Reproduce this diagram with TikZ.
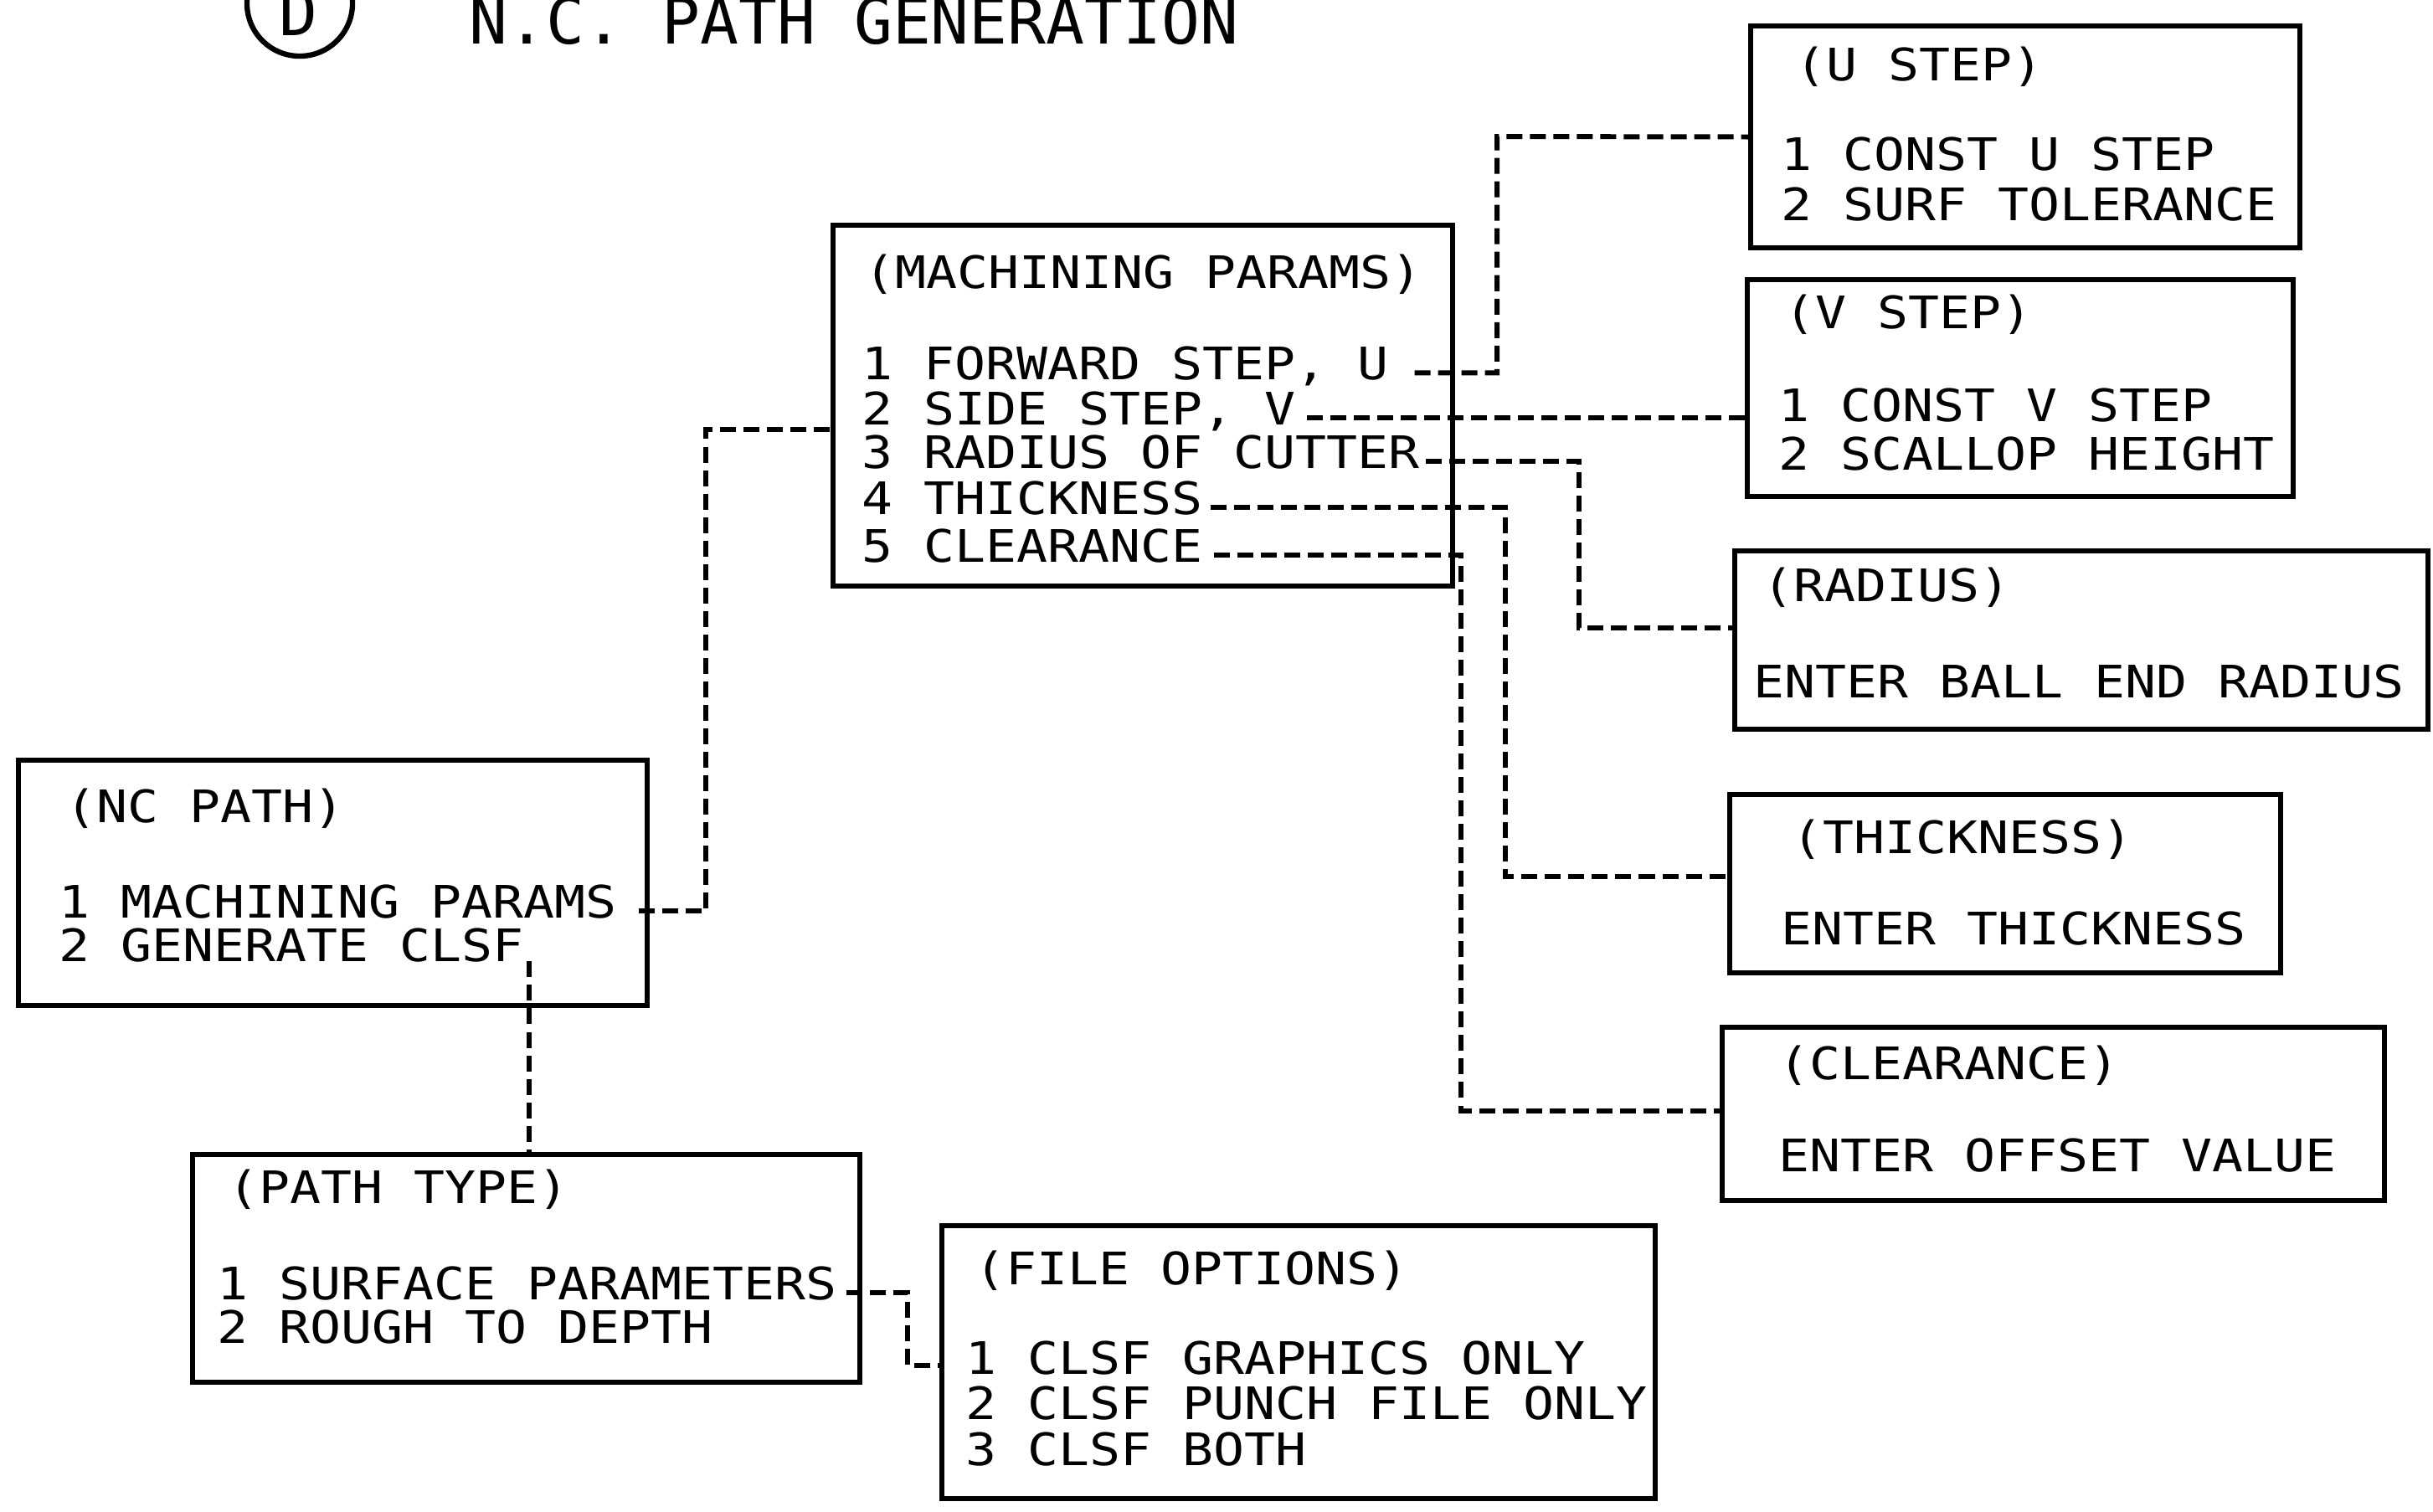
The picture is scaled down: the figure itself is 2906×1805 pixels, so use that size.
\documentclass[tikz,border=0pt]{standalone}
\usepackage{fontspec}
\setmonofont{DejaVu Sans Mono}
\newfontfamily\plotfont[FakeStretch=1.15]{DejaVu Sans Mono}
\usetikzlibrary{fit,calc}
\begin{document}
\begin{tikzpicture}[x=0.01cm,y=-0.01cm,
  box/.style={draw, line width=1.8pt, inner sep=0pt},
  txt/.style={inner sep=0pt, anchor=base west, text height=11.1pt, text depth=0pt, font=\plotfont\fontsize{15.2}{18}\selectfont},
  ttl/.style={inner sep=0pt, font=\ttfamily\fontsize{21.7}{26}\selectfont},
  conn/.style={line width=1.7pt, dash pattern=on 0.19cm off 0.09cm}]
\useasboundingbox (0,0) rectangle (2906,1805);
\clip (0,0) rectangle (2906,1805);

% title
\node[draw, circle, line width=1.8pt, minimum size=1.26cm, inner sep=0pt] (circ) at (358,4) {};
\node[ttl, anchor=base] (dlet) at (356,42) {D};
\node[ttl, anchor=base west] (title) at (560,52) {N.C. PATH GENERATION};

% machining params
\node[box, fit={(995,269) (1735,700)}] (mp) {};
\node[txt] (mp0) at (1032,344) {(MACHINING PARAMS)};
\node[txt] (mp1) at (1029,453) {1 FORWARD STEP, U};
\node[txt] (mp2) at (1029,507) {2 SIDE STEP, V};
\node[txt] (mp3) at (1029,559) {3 RADIUS OF CUTTER};
\node[txt] (mp4) at (1029,614) {4 THICKNESS};
\node[txt] (mp5) at (1029,671) {5 CLEARANCE};

% U step
\node[box, fit={(2091,31) (2747,296)}] (ustep) {};
\node[txt] (us0) at (2144,96) {(U STEP)};
\node[txt] (us1) at (2127,203) {1 CONST U STEP};
\node[txt] (us2) at (2127,263) {2 SURF TOLERANCE};

% V step
\node[box, fit={(2087,334) (2739,593)}] (vstep) {};
\node[txt] (vs0) at (2131,392) {(V STEP)};
\node[txt] (vs1) at (2124,503) {1 CONST V STEP};
\node[txt] (vs2) at (2124,561) {2 SCALLOP HEIGHT};

% radius
\node[box, fit={(2072,658) (2900,871)}] (radius) {};
\node[txt] (ra0) at (2105,718) {(RADIUS)};
\node[txt] (ra1) at (2094,833) {ENTER BALL END RADIUS};

% thickness
\node[box, fit={(2066,949) (2724,1162)}] (thick) {};
\node[txt] (th0) at (2140,1019) {(THICKNESS)};
\node[txt] (th1) at (2127,1128) {ENTER THICKNESS};

% clearance
\node[box, fit={(2057,1227) (2848,1434)}] (clear) {};
\node[txt] (cl0) at (2124,1289) {(CLEARANCE)};
\node[txt] (cl1) at (2124,1399) {ENTER OFFSET VALUE};

% NC path
\node[box, fit={(22,908) (773,1201)}] (nc) {};
\node[txt] (nc0) at (78,982) {(NC PATH)};
\node[txt] (nc1) at (70,1096) {1 MACHINING PARAMS};
\node[txt] (nc2) at (70,1148) {2 GENERATE CLSF};

% path type
\node[box, fit={(230,1379) (1027,1651)}] (ptype) {};
\node[txt] (pt0) at (272,1437) {(PATH TYPE)};
\node[txt] (pt1) at (259,1552) {1 SURFACE PARAMETERS};
\node[txt] (pt2) at (259,1604) {2 ROUGH TO DEPTH};

% file options
\node[box, fit={(1125,1464) (1977,1790)}] (fopt) {};
\node[txt] (fo0) at (1164,1534) {(FILE OPTIONS)};
\node[txt] (fo1) at (1153,1641) {1 CLSF GRAPHICS ONLY};
\node[txt] (fo2) at (1153,1695) {2 CLSF PUNCH FILE ONLY};
\node[txt] (fo3) at (1153,1750) {3 CLSF BOTH};

% connector bends
\coordinate (bu) at (1788,163);
\coordinate (br) at (1886,750);
\coordinate (b4) at (1798,1047);
\coordinate (b5) at (1745,1327);
\coordinate (bn) at (843,513);
\coordinate (bp) at (1084,1631);
\coordinate (g) at ([xshift=0.05cm,yshift=-0.08cm]nc2.mid east);

% connectors
\draw[conn] ([xshift=0.3cm]mp1.mid east) -| (bu) -- (ustep.west);
\draw[conn] ([xshift=0.12cm]mp2.mid east) -- (mp2.mid east -| vstep.west);
\draw[conn] ([xshift=0.06cm]mp3.mid east) -| (br) -- (br -| radius.west);
\draw[conn] ([xshift=0.08cm]mp4.mid east) -| (b4) -- (b4 -| thick.west);
\draw[conn] ([xshift=0.12cm]mp5.mid east) -| (b5) -- (b5 -| clear.west);
\draw[conn] ([xshift=0.25cm]nc1.mid east) -| (bn) -- (bn -| mp.west);
\draw[conn] (g) -- (g |- ptype.north);
\draw[conn] ([xshift=0.1cm]pt1.mid east) -| (bp) -- (bp -| fopt.west);
\end{tikzpicture}
\end{document}
